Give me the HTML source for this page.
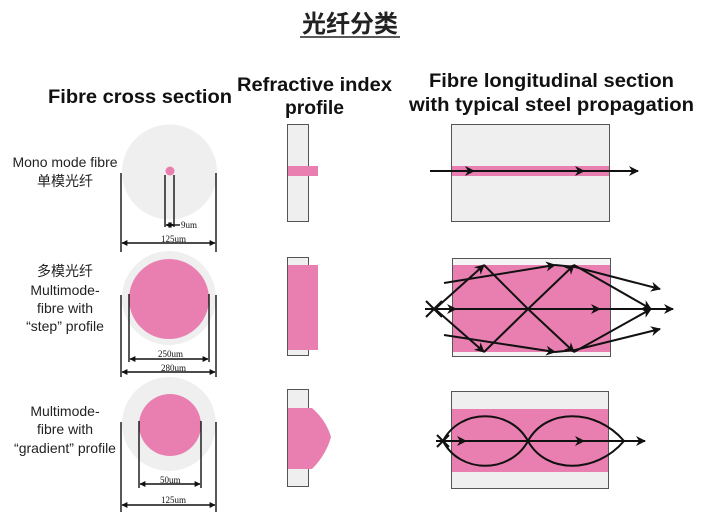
<!DOCTYPE html>
<html><head><meta charset="utf-8"><style>
html,body{margin:0;padding:0;background:#fff;width:705px;height:530px;overflow:hidden}
svg{display:block}
text{font-family:"Liberation Sans","Noto Sans CJK SC",sans-serif}
.h{font-weight:bold;font-size:19px;fill:#111}
.l{font-size:14px;fill:#222;text-anchor:middle}
.d{font-family:"Liberation Serif",serif;font-size:9px;fill:#111}
.k{stroke:#111;stroke-width:1.4;fill:none}
.r{stroke:#111;stroke-width:2;fill:none}
</style></head><body>
<svg width="705" height="530" viewBox="0 0 705 530" xmlns="http://www.w3.org/2000/svg">
<defs>
<marker id="a" viewBox="0 0 10 10" refX="9" refY="5" markerWidth="11" markerHeight="10" orient="auto" markerUnits="userSpaceOnUse"><path d="M0,0 L10,5 L0,10 L3,5z" fill="#111"/></marker>
<marker id="s" viewBox="0 0 10 10" refX="9" refY="5" markerWidth="6" markerHeight="6" orient="auto-start-reverse" markerUnits="userSpaceOnUse"><path d="M0,0 L10,5 L0,10z" fill="#111"/></marker>
</defs>
<text x="350" y="32" font-size="24" text-anchor="middle" fill="#222" font-weight="bold" font-family="'Noto Sans CJK SC',sans-serif">光纤分类</text>
<line x1="300" y1="37" x2="400" y2="37" stroke="#222" stroke-width="1.5"/>

<text class="h" x="48" y="103" textLength="184" lengthAdjust="spacingAndGlyphs">Fibre cross section</text>
<text class="h" x="237" y="91" textLength="155" lengthAdjust="spacingAndGlyphs">Refractive index</text>
<text class="h" x="285" y="114" textLength="59" lengthAdjust="spacingAndGlyphs">profile</text>
<text class="h" x="429" y="87" textLength="245" lengthAdjust="spacingAndGlyphs">Fibre longitudinal section</text>
<text class="h" x="409" y="111" textLength="285" lengthAdjust="spacingAndGlyphs">with typical steel propagation</text>

<text class="l" x="65" y="167">Mono mode fibre</text>
<text class="l" x="65" y="186">单模光纤</text>
<text class="l" x="65" y="276">多模光纤</text>
<text class="l" x="65" y="295">Multimode-</text>
<text class="l" x="65" y="313">fibre with</text>
<text class="l" x="65" y="331">“step” profile</text>
<text class="l" x="65" y="416">Multimode-</text>
<text class="l" x="65" y="434">fibre with</text>
<text class="l" x="65" y="453">“gradient” profile</text>

<circle cx="169.5" cy="172" r="47.5" fill="#efefef"/>
<circle cx="170" cy="171" r="4.5" fill="#e97fb0"/>
<line class="k" x1="165" y1="175" x2="165" y2="227"/>
<line class="k" x1="174" y1="175" x2="174" y2="227"/>
<line class="k" x1="166" y1="225" x2="174" y2="225" marker-start="url(#s)" marker-end="url(#s)"/>
<line class="k" x1="174" y1="225" x2="180" y2="225"/>
<text class="d" x="181" y="228">9um</text>
<line class="k" x1="121" y1="173" x2="121" y2="252"/>
<line class="k" x1="216" y1="173" x2="216" y2="252"/>
<line class="k" x1="122" y1="243" x2="215" y2="243" marker-start="url(#s)" marker-end="url(#s)"/>
<text class="d" x="161" y="242">125um</text>

<circle cx="169" cy="298" r="47" fill="#efefef"/>
<circle cx="169" cy="299" r="40" fill="#e97fb0"/>
<line class="k" x1="129" y1="294" x2="129" y2="362"/>
<line class="k" x1="209" y1="294" x2="209" y2="362"/>
<line class="k" x1="130" y1="359" x2="208" y2="359" marker-start="url(#s)" marker-end="url(#s)"/>
<text class="d" x="158" y="357">250um</text>
<line class="k" x1="121" y1="295" x2="121" y2="377"/>
<line class="k" x1="216" y1="295" x2="216" y2="377"/>
<line class="k" x1="122" y1="372" x2="215" y2="372" marker-start="url(#s)" marker-end="url(#s)"/>
<text class="d" x="161" y="371">280um</text>

<circle cx="169" cy="424" r="47" fill="#efefef"/>
<circle cx="170" cy="425" r="31" fill="#e97fb0"/>
<line class="k" x1="139" y1="421" x2="139" y2="488"/>
<line class="k" x1="201" y1="421" x2="201" y2="488"/>
<line class="k" x1="140" y1="484" x2="200" y2="484" marker-start="url(#s)" marker-end="url(#s)"/>
<text class="d" x="160" y="483">50um</text>
<line class="k" x1="121" y1="422" x2="121" y2="512"/>
<line class="k" x1="216" y1="422" x2="216" y2="512"/>
<line class="k" x1="122" y1="505" x2="215" y2="505" marker-start="url(#s)" marker-end="url(#s)"/>
<text class="d" x="161" y="503">125um</text>

<rect x="287.5" y="124.5" width="21" height="97" fill="#efefef" stroke="#555"/>
<rect x="288" y="166" width="30" height="10" fill="#e97fb0"/>
<rect x="287.5" y="257.5" width="21" height="98" fill="#efefef" stroke="#555"/>
<rect x="288" y="265" width="30" height="85" fill="#e97fb0"/>
<rect x="287.5" y="389.5" width="21" height="97" fill="#efefef" stroke="#555"/>
<path d="M288,408 L312,408 Q326,420 331,437 Q326,455 312,469 L288,469z" fill="#e97fb0"/>

<rect x="451.5" y="124.5" width="158" height="97" fill="#efefef" stroke="#555"/>
<rect x="452" y="166" width="157" height="10" fill="#e97fb0"/>
<line class="r" x1="430" y1="171" x2="474" y2="171" marker-end="url(#a)"/>
<line class="r" x1="470" y1="171" x2="584" y2="171" marker-end="url(#a)"/>
<line class="r" x1="580" y1="171" x2="638" y2="171" marker-end="url(#a)"/>

<rect x="452.5" y="258.5" width="158" height="98" fill="#f4f4f4" stroke="#555"/>
<rect x="453" y="265" width="157" height="87" fill="#e97fb0"/>
<line class="r" x1="426" y1="301" x2="442" y2="317"/>
<line class="r" x1="426" y1="317" x2="442" y2="301"/>
<line class="r" x1="425" y1="309" x2="456" y2="309" marker-end="url(#a)"/>
<line class="r" x1="456" y1="309" x2="600" y2="309" marker-end="url(#a)"/>
<line class="r" x1="600" y1="309" x2="673" y2="309" marker-end="url(#a)"/>
<line class="r" x1="435" y1="309" x2="484" y2="265" marker-end="url(#a)"/>
<line class="r" x1="484" y1="265" x2="528" y2="309"/>
<line class="r" x1="528" y1="309" x2="574" y2="352" marker-end="url(#a)"/>
<line class="r" x1="574" y1="352" x2="651" y2="309" marker-end="url(#a)"/>
<line class="r" x1="435" y1="309" x2="484" y2="352" marker-end="url(#a)"/>
<line class="r" x1="484" y1="352" x2="528" y2="309"/>
<line class="r" x1="528" y1="309" x2="574" y2="265" marker-end="url(#a)"/>
<line class="r" x1="574" y1="265" x2="651" y2="309" marker-end="url(#a)"/>
<line class="r" x1="444" y1="283" x2="555" y2="265" marker-end="url(#a)"/>
<line class="r" x1="555" y1="265" x2="575" y2="267"/>
<line class="r" x1="575" y1="267" x2="660" y2="289" marker-end="url(#a)"/>
<line class="r" x1="444" y1="335" x2="555" y2="352" marker-end="url(#a)"/>
<line class="r" x1="555" y1="352" x2="575" y2="350"/>
<line class="r" x1="575" y1="350" x2="660" y2="329" marker-end="url(#a)"/>

<rect x="451.5" y="391.5" width="157" height="97" fill="#efefef" stroke="#555"/>
<rect x="452" y="409" width="156" height="63" fill="#e97fb0"/>
<line class="r" x1="437" y1="435" x2="449" y2="447"/>
<line class="r" x1="437" y1="447" x2="449" y2="435"/>
<line class="r" x1="436" y1="441" x2="466" y2="441" marker-end="url(#a)"/>
<line class="r" x1="466" y1="441" x2="584" y2="441" marker-end="url(#a)"/>
<line class="r" x1="584" y1="441" x2="645" y2="441" marker-end="url(#a)"/>
<path class="r" d="M443,441 C460,408 510,408 528,441 C546,474 596,474 624,441"/>
<path class="r" d="M443,441 C460,474 510,474 528,441 C546,408 596,408 624,441"/>
</svg>
</body></html>
